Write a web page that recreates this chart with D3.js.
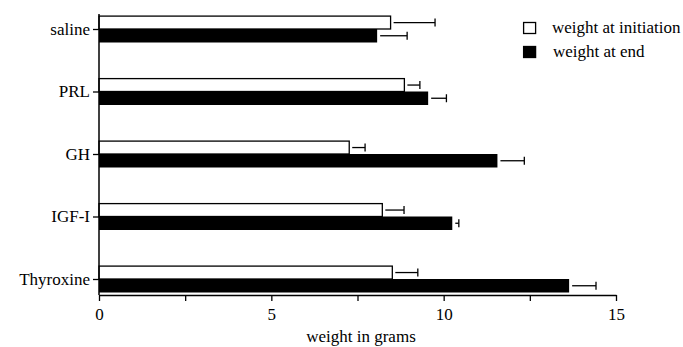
<!DOCTYPE html>
<html>
<head>
<meta charset="utf-8">
<script src="https://cdn.jsdelivr.net/npm/d3@7"></script>
<style>
  html, body { margin: 0; padding: 0; background: #fff; }
  svg { display: block; }
  svg text { font-family: "Liberation Serif", Tinos, "Times New Roman", Times, "DejaVu Serif", serif !important; fill: #000; }
</style>
</head>
<body>
<svg id="chart" width="683" height="347"></svg>
<script>
const categories = ["saline", "PRL", "GH", "IGF-I", "Thyroxine"];
const initiationWeight = [8.46, 8.86, 7.26, 8.22, 8.51];
const initiationError  = [1.29, 0.45, 0.46, 0.63, 0.74];
const endWeight        = [8.07, 9.55, 11.56, 10.25, 13.64];
const endError         = [0.87, 0.53, 0.78, 0.19, 0.78];
const seriesNames = ["weight at initiation", "weight at end"];
const xTicks = [0, 2.5, 5, 7.5, 10, 12.5, 15];
const xTickLabels = ["0", "", "5", "", "10", "", "15"];
const xLabel = "weight in grams";

const FONT = '"Liberation Serif", Tinos, "Times New Roman", Times, "DejaVu Serif", serif';
const svg = d3.select("#chart");
const x = d3.scaleLinear().domain([0, 15]).range([99, 616]);
const y = d3.scalePoint().domain(categories).range([29, 279]);
const axisTop = 14, axisBottom = 295;
const barH = 13.5;
const fontSize = 17;

const rows = categories.map((c, i) => ({
  cat: c,
  init: initiationWeight[i], initErr: initiationError[i],
  end: endWeight[i], endErr: endError[i]
}));

const g = svg.append("g");
g.selectAll("rect.init").data(rows).join("rect")
  .attr("class", "init")
  .attr("x", x(0))
  .attr("y", d => y(d.cat) - barH + 0.6)
  .attr("width", d => x(d.init) - x(0))
  .attr("height", barH - 0.6)
  .attr("fill", "#fff")
  .attr("stroke", "#000")
  .attr("stroke-width", 1.3);

g.selectAll("rect.end").data(rows).join("rect")
  .attr("class", "end")
  .attr("x", x(0))
  .attr("y", d => y(d.cat))
  .attr("width", d => x(d.end) - x(0))
  .attr("height", barH)
  .attr("fill", "#000");

function errBars(cls, val, err, yOff) {
  const eg = g.selectAll("g." + cls).data(rows).join("g").attr("class", cls);
  eg.append("line")
    .attr("x1", d => x(d[val]) + 3)
    .attr("x2", d => x(d[val] + d[err]))
    .attr("y1", d => y(d.cat) + yOff)
    .attr("y2", d => y(d.cat) + yOff)
    .attr("stroke", "#000").attr("stroke-width", 1.3);
  eg.append("line")
    .attr("x1", d => x(d[val] + d[err]))
    .attr("x2", d => x(d[val] + d[err]))
    .attr("y1", d => y(d.cat) + yOff - 4)
    .attr("y2", d => y(d.cat) + yOff + 4)
    .attr("stroke", "#000").attr("stroke-width", 1.3);
}
errBars("errInit", "init", "initErr", -barH / 2 + 0.3);
errBars("errEnd", "end", "endErr", barH / 2);

const yAxis = svg.append("g")
  .attr("transform", `translate(${x(0)},0)`)
  .call(d3.axisLeft(y).tickSize(6).tickPadding(3))
  .attr("font-family", FONT)
  .attr("font-size", fontSize);
yAxis.select(".domain").remove();
yAxis.append("line")
  .attr("x1", 0).attr("x2", 0)
  .attr("y1", axisTop).attr("y2", axisBottom)
  .attr("stroke", "#000").attr("stroke-width", 1.5);
yAxis.selectAll(".tick line").attr("stroke", "#000").attr("stroke-width", 1.3);
yAxis.selectAll(".tick text").style("font-family", FONT).attr("fill", "#000");

const xAxis = svg.append("g")
  .attr("transform", `translate(0,${axisBottom})`)
  .call(d3.axisBottom(x).tickValues(xTicks)
    .tickFormat((d, i) => xTickLabels[i])
    .tickSize(6).tickSizeOuter(0).tickPadding(7))
  .attr("font-family", FONT)
  .attr("font-size", fontSize);
xAxis.select(".domain").attr("stroke", "#000").attr("stroke-width", 1.5);
xAxis.selectAll(".tick line").attr("stroke", "#000").attr("stroke-width", 1.3);
xAxis.selectAll(".tick text").style("font-family", FONT).attr("fill", "#000");

svg.append("text")
  .attr("x", 361)
  .attr("y", 342)
  .attr("text-anchor", "middle")
  .style("font-family", FONT)
  .attr("font-size", fontSize)
  .text(xLabel);

const legend = svg.append("g").attr("transform", "translate(523,0)");
const legY = [22.5, 46.5];
const legFill = ["#fff", "#000"];
seriesNames.forEach((name, i) => {
  legend.append("rect")
    .attr("x", 0.6).attr("y", legY[i])
    .attr("width", 12).attr("height", 11)
    .attr("fill", legFill[i])
    .attr("stroke", "#000").attr("stroke-width", 1.3);
  legend.append("text")
    .attr("x", 29 + i)
    .attr("y", legY[i] + 10.5)
    .style("font-family", FONT)
    .attr("font-size", fontSize)
    .text(name);
});
</script>
</body>
</html>
